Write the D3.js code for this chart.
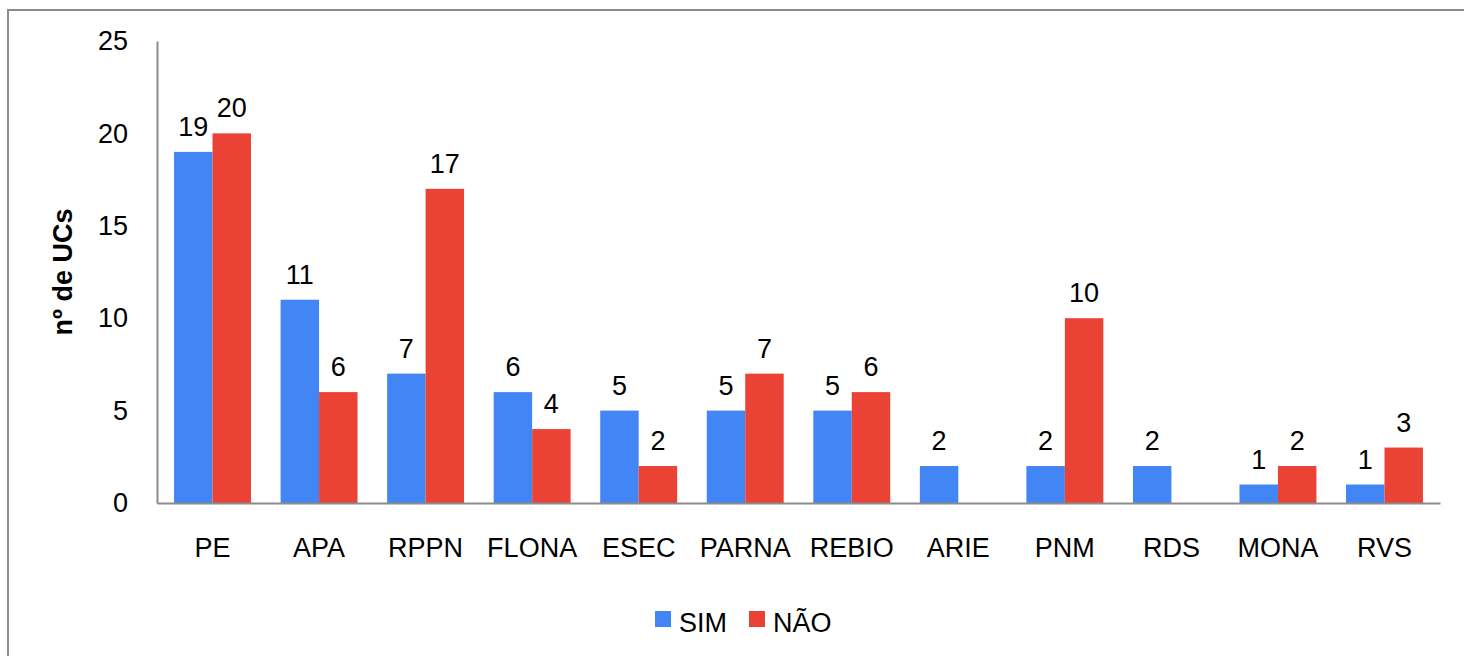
<!DOCTYPE html>
<html>
<head>
<meta charset="utf-8">
<script src="https://cdn.jsdelivr.net/npm/d3@7"></script>
<style>
  body { margin: 0; background: #fff; }
  svg { font-family: "Liberation Sans", Arial, sans-serif; }
</style>
</head>
<body>
<svg id="chart" width="1464" height="656"></svg>
<script>
const categories = ["PE", "APA", "RPPN", "FLONA", "ESEC", "PARNA", "REBIO", "ARIE", "PNM", "RDS", "MONA", "RVS"];
const sim = [19, 11, 7, 6, 5, 5, 5, 2, 2, 2, 1, 1];
const nao = [20, 6, 17, 4, 2, 7, 6, null, 10, null, 2, 3];
const seriesNames = ["SIM", "NÃO"];
const colors = ["#4285f4", "#ea4335"];
const yTicks = [0, 5, 10, 15, 20, 25];

const svg = d3.select("#chart");
const fontFam = "Liberation Sans, Arial, sans-serif";

// outer frame
svg.append("rect")
  .attr("x", 8).attr("y", 10)
  .attr("width", 1470).attr("height", 660)
  .attr("fill", "none")
  .attr("stroke", "#8c8c8c")
  .attr("stroke-width", 2);

const plotLeft = 157, plotRight = 1440, plotTop = 41, plotBottom = 503;

const x = d3.scaleBand().domain(categories).range([plotLeft, plotRight]).paddingInner(0.278).paddingOuter(0.16);
const x1 = d3.scaleBand().domain(seriesNames).range([0, x.bandwidth()]);
const y = d3.scaleLinear().domain([0, 25]).range([plotBottom, plotTop]);

const rows = categories.map((c, i) => ({ cat: c, values: [sim[i], nao[i]] }));

const groups = svg.selectAll("g.cat")
  .data(rows)
  .enter()
  .append("g")
  .attr("class", "cat")
  .attr("transform", d => `translate(${x(d.cat)},0)`);

groups.selectAll("rect")
  .data(d => d.values.map((v, j) => ({ v, j })).filter(e => e.v != null))
  .enter()
  .append("rect")
  .attr("x", d => x1(seriesNames[d.j]))
  .attr("y", d => y(d.v))
  .attr("width", x1.bandwidth())
  .attr("height", d => y(0) - y(d.v))
  .attr("fill", d => colors[d.j]);

groups.selectAll("text.lbl")
  .data(d => d.values.map((v, j) => ({ v, j })).filter(e => e.v != null))
  .enter()
  .append("text")
  .attr("class", "lbl")
  .attr("x", d => x1(seriesNames[d.j]) + x1.bandwidth() / 2)
  .attr("y", d => y(d.v) - 16)
  .attr("text-anchor", "middle")
  .attr("font-size", 27)
  .text(d => d.v);

// y axis
const yAxis = svg.append("g")
  .attr("transform", `translate(${plotLeft},0)`)
  .call(d3.axisLeft(y).tickValues(yTicks).tickSize(0).tickPadding(29));
yAxis.select(".domain").attr("stroke", "#8c8c8c").attr("stroke-width", 2);
yAxis.selectAll("text").attr("font-size", 27).attr("fill", "#000")
  .attr("font-family", fontFam);

// x axis
const xAxis = svg.append("g")
  .attr("transform", `translate(0,${plotBottom})`)
  .call(d3.axisBottom(x).tickSize(0).tickPadding(35));
xAxis.select(".domain").attr("stroke", "#8c8c8c").attr("stroke-width", 2);
xAxis.selectAll("text").attr("font-size", 27).attr("fill", "#000")
  .attr("font-family", fontFam);

// y title
svg.append("text")
  .attr("transform", `translate(72,272) rotate(-90)`)
  .attr("text-anchor", "middle")
  .attr("font-size", 27)
  .attr("font-weight", "bold")
  .text("nº de UCs");

// legend
const legend = svg.append("g").attr("transform", "translate(655,611)");
const legendX = [0, 94];
seriesNames.forEach((s, i) => {
  legend.append("rect")
    .attr("x", legendX[i]).attr("y", 0)
    .attr("width", 16).attr("height", 16)
    .attr("fill", colors[i]);
  legend.append("text")
    .attr("x", legendX[i] + 24).attr("y", 21)
    .attr("font-size", 27)
    .text(s);
});
</script>
</body>
</html>
